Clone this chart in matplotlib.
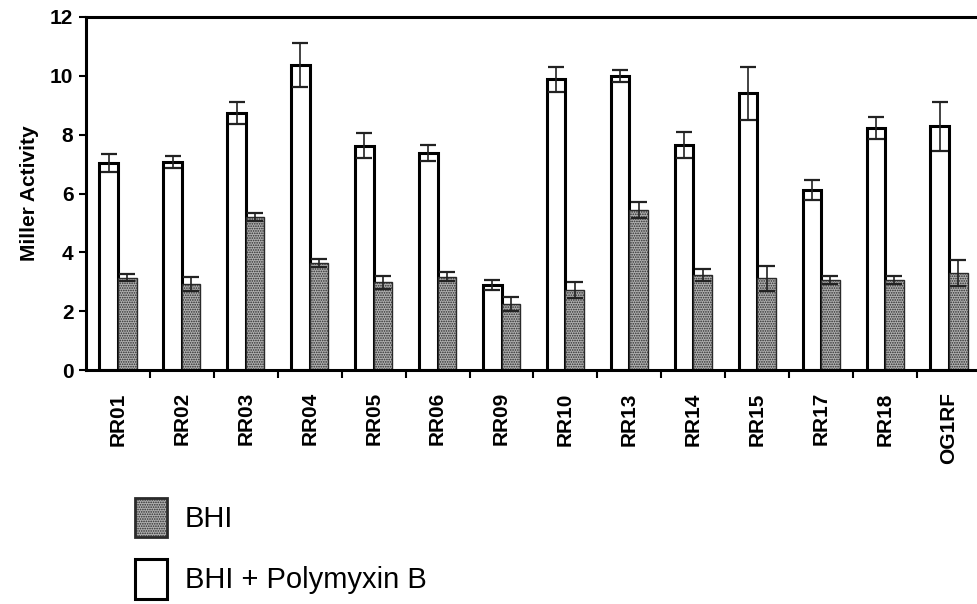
import matplotlib
matplotlib.use("Agg")
import matplotlib.pyplot as plt
import numpy as np

strains = ["RR01", "RR02", "RR03", "RR04", "RR05", "RR06", "RR09",
           "RR10", "RR13", "RR14", "RR15", "RR17", "RR18", "OG1RF"]
polymyxin = [7.04, 7.08, 8.73, 10.37, 7.62, 7.37, 2.89,
             9.88, 9.99, 7.65, 9.41, 6.12, 8.22, 8.28]
polymyxin_err = [0.30, 0.20, 0.37, 0.74, 0.42, 0.27, 0.17,
                 0.43, 0.20, 0.43, 0.90, 0.33, 0.37, 0.83]
bhi = [3.13, 2.92, 5.20, 3.63, 2.98, 3.17, 2.24,
       2.72, 5.44, 3.23, 3.12, 3.06, 3.06, 3.29]
bhi_err = [0.12, 0.25, 0.15, 0.13, 0.23, 0.15, 0.23,
           0.27, 0.27, 0.22, 0.43, 0.15, 0.15, 0.44]
yticks = [0, 2, 4, 6, 8, 10, 12]

plt.rcParams['font.family'] = ['Liberation Sans', 'DejaVu Sans']
plt.rcParams['hatch.linewidth'] = 0.8

fig = plt.figure(figsize=(9.78, 6.04), dpi=100)
ax = fig.add_axes([86/978, 1-370/604, (981-86)/978, (370-17)/604])

x = np.arange(len(strains))
w = 0.29
b1 = ax.bar(x - w/2, polymyxin, width=w, color='white', edgecolor='black',
            linewidth=2.2, label='BHI + Polymyxin B', zorder=2)
b2 = ax.bar(x + w/2, bhi, width=w, color='#b0b0b0', edgecolor='#2a2a2a',
            linewidth=1.0, hatch='.......', label='BHI', zorder=2)
ax.errorbar(x - w/2, polymyxin, yerr=polymyxin_err, fmt='none', ecolor='#222222',
            elinewidth=1.2, capsize=6, capthick=1.6, zorder=3)
ax.errorbar(x + w/2, bhi, yerr=bhi_err, fmt='none', ecolor='#222222',
            elinewidth=1.2, capsize=6, capthick=1.6, zorder=3)

ax.set_xlim(-0.5, 13.5)
ax.set_ylim(0, 12)
ax.set_yticks(yticks)
ax.set_yticklabels([str(v) for v in yticks], fontsize=15, fontweight='bold')
ax.set_xticks(x)
ax.set_xticklabels(strains, rotation=90, fontsize=15, fontweight='bold')
ax.set_xticks(np.arange(0.5, 13.5, 1), minor=True)
ax.tick_params(axis='x', which='major', length=0, pad=16)
ax.tick_params(axis='x', which='minor', length=6, width=1.5, direction='out')
ax.tick_params(axis='y', length=5, width=1.5, direction='out', pad=4)
ax.set_ylabel('Miller Activity', fontsize=15, fontweight='bold', labelpad=8)

for s in ['left', 'bottom', 'top']:
    ax.spines[s].set_linewidth(2.2)
ax.spines['right'].set_visible(False)

leg = fig.legend(handles=[b2, b1], labels=['BHI', 'BHI + Polymyxin B'],
                 loc='upper left', bbox_to_anchor=(135/978, 1-498/604),
                 frameon=False, fontsize=21, handlelength=1.1, handleheight=1.7,
                 labelspacing=0.75, handletextpad=0.6, borderpad=0, borderaxespad=0)
leg.legend_handles[0].set_linewidth(2.0)

fig.savefig('out.png', dpi=100)
